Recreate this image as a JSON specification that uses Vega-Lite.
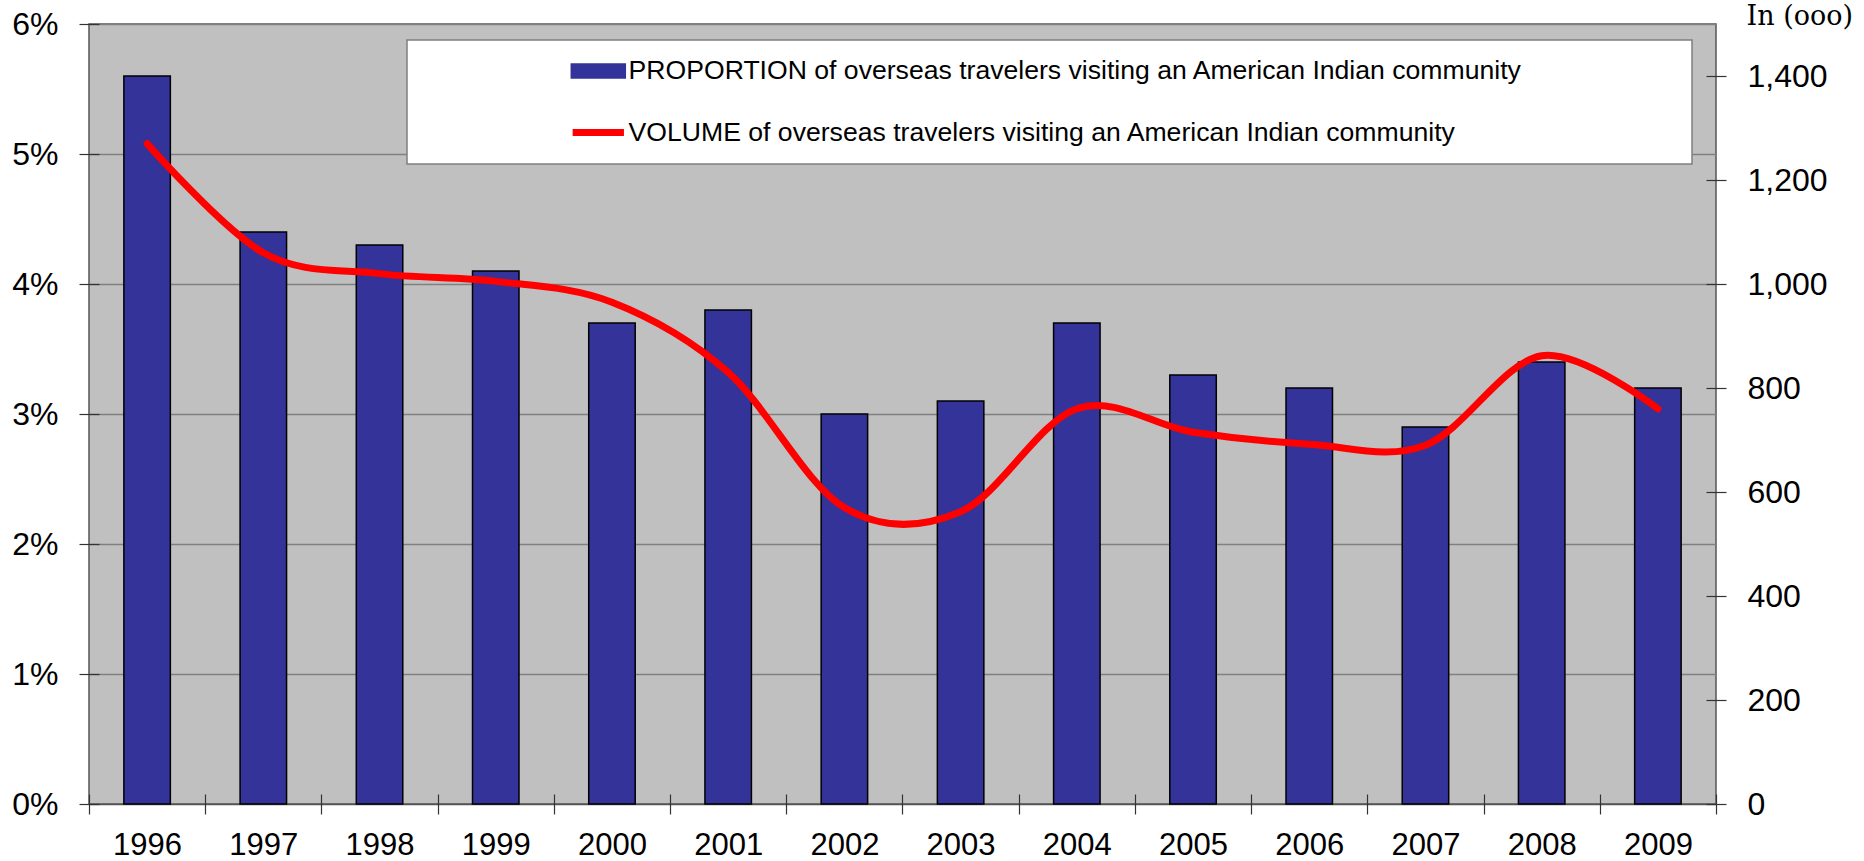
{
  "$schema": "https://vega.github.io/schema/vega-lite/v6.json",
  "autosize": {"type": "none"},
  "width": 1627,
  "height": 780,
  "padding": {"left": 89, "top": 24, "right": 148, "bottom": 57},
  "background": "white",
  "config": {
    "view": {"fill": "#c0c0c0", "stroke": "#555555", "strokeWidth": 1.5},
    "axis": {
      "labelFont": "Liberation Sans",
      "labelFontSize": 32,
      "labelColor": "black",
      "tickColor": "#333333",
      "tickWidth": 1.2,
      "domain": false
    },
    "legend": {
      "orient": "none",
      "legendX": 318,
      "legendY": 16,
      "direction": "vertical",
      "fillColor": "white",
      "strokeColor": "#7f7f7f",
      "strokeWidth": 1.5,
      "padding": 17,
      "symbolSize": 2916,
      "symbolStrokeWidth": 1.5,
      "symbolOffset": 161,
      "labelOffset": 17,
      "clipHeight": 28,
      "rowPadding": 33.5,
      "labelFont": "Liberation Sans",
      "labelFontSize": 26.6,
      "labelColor": "black",
      "labelLimit": 2000
    }
  },
  "data": {
    "values": [
      {"year": "1996", "pct": 0.056, "volume": 1270},
      {"year": "1997", "pct": 0.044, "volume": 1060},
      {"year": "1998", "pct": 0.043, "volume": 1020},
      {"year": "1999", "pct": 0.041, "volume": 1005},
      {"year": "2000", "pct": 0.037, "volume": 965},
      {"year": "2001", "pct": 0.038, "volume": 830},
      {"year": "2002", "pct": 0.030, "volume": 570},
      {"year": "2003", "pct": 0.031, "volume": 562},
      {"year": "2004", "pct": 0.037, "volume": 760},
      {"year": "2005", "pct": 0.033, "volume": 715},
      {"year": "2006", "pct": 0.032, "volume": 692},
      {"year": "2007", "pct": 0.029, "volume": 690},
      {"year": "2008", "pct": 0.034, "volume": 862},
      {"year": "2009", "pct": 0.032, "volume": 760}
    ]
  },
  "encoding": {
    "x": {
      "field": "year",
      "type": "ordinal",
      "scale": {"paddingInner": 0, "paddingOuter": 0},
      "axis": {
        "title": null,
        "labelAngle": 0,
        "tickBand": "extent",
        "offset": -10,
        "tickSize": 20,
        "labelPadding": 16,
        "labelFontSize": 31,
        "grid": false
      }
    }
  },
  "layer": [
    {
      "mark": {"type": "bar", "width": {"band": 0.4}, "stroke": "black", "strokeWidth": 1.5},
      "encoding": {
        "y": {
          "field": "pct",
          "type": "quantitative",
          "scale": {"domain": [0, 0.06], "nice": false},
          "axis": {
            "title": null,
            "orient": "left",
            "values": [0, 0.01, 0.02, 0.03, 0.04, 0.05, 0.06],
            "format": ".0%",
            "offset": -10,
            "tickSize": 20,
            "labelPadding": 21,
            "grid": true,
            "gridColor": {"condition": {"test": "datum.value === 0", "value": "#555555"}, "value": "#808080"},
            "gridWidth": 1.5
          }
        },
        "color": {
          "datum": "PROPORTION of overseas travelers visiting an American Indian community",
          "type": "nominal",
          "scale": {
            "domain": [
              "PROPORTION of overseas travelers visiting an American Indian community",
              "VOLUME of overseas travelers visiting an American Indian community"
            ],
            "range": ["#333399", "#ff0000"]
          },
          "legend": {
            "title": null,
            "encode": {
              "symbols": {
                "update": {
                  "shape": {"signal": "datum.value === 'VOLUME of overseas travelers visiting an American Indian community' ? 'M-0.95,0H0.95' : 'M-1,-0.26H1V0.26H-1Z'"},
                  "fill": {"signal": "datum.value === 'VOLUME of overseas travelers visiting an American Indian community' ? 'transparent' : '#333399'"},
                  "stroke": {"signal": "datum.value === 'VOLUME of overseas travelers visiting an American Indian community' ? '#ff0000' : '#000000'"},
                  "strokeWidth": {"signal": "datum.value === 'VOLUME of overseas travelers visiting an American Indian community' ? 7 : 1.5"},
                  "opacity": {"value": 1}
                }
              },
              "entries": {
                "update": {
                  "width": {"value": 1251},
                  "height": {"value": 28}
                }
              }
            }
          }
        }
      }
    },
    {
      "mark": {"type": "line", "interpolate": "cardinal", "tension": 0, "strokeWidth": 7, "strokeCap": "round", "strokeJoin": "round"},
      "encoding": {
        "y": {
          "field": "volume",
          "type": "quantitative",
          "scale": {"domain": [0, 1500], "nice": false},
          "axis": {
            "orient": "right",
            "values": [0, 200, 400, 600, 800, 1000, 1200, 1400],
            "format": ",.0f",
            "offset": -10,
            "tickSize": 20,
            "labelPadding": 21,
            "grid": false,
            "title": "In (ooo)",
            "titleFont": "DejaVu Serif",
            "titleFontSize": 27,
            "titleFontWeight": "normal",
            "titleColor": "black",
            "titleAngle": 0,
            "titleAlign": "left",
            "titleBaseline": "alphabetic",
            "titleX": 40,
            "titleY": 0
          }
        },
        "color": {
          "datum": "VOLUME of overseas travelers visiting an American Indian community",
          "type": "nominal",
          "legend": {
            "title": null,
            "encode": {
              "symbols": {
                "update": {
                  "shape": {"signal": "datum.value === 'VOLUME of overseas travelers visiting an American Indian community' ? 'M-0.95,0H0.95' : 'M-1,-0.26H1V0.26H-1Z'"},
                  "fill": {"signal": "datum.value === 'VOLUME of overseas travelers visiting an American Indian community' ? 'transparent' : '#333399'"},
                  "stroke": {"signal": "datum.value === 'VOLUME of overseas travelers visiting an American Indian community' ? '#ff0000' : '#000000'"},
                  "strokeWidth": {"signal": "datum.value === 'VOLUME of overseas travelers visiting an American Indian community' ? 7 : 1.5"},
                  "opacity": {"value": 1}
                }
              },
              "entries": {
                "update": {
                  "width": {"value": 1251},
                  "height": {"value": 28}
                }
              }
            }
          }
        }
      }
    }
  ],
  "resolve": {"scale": {"y": "independent"}}
}
